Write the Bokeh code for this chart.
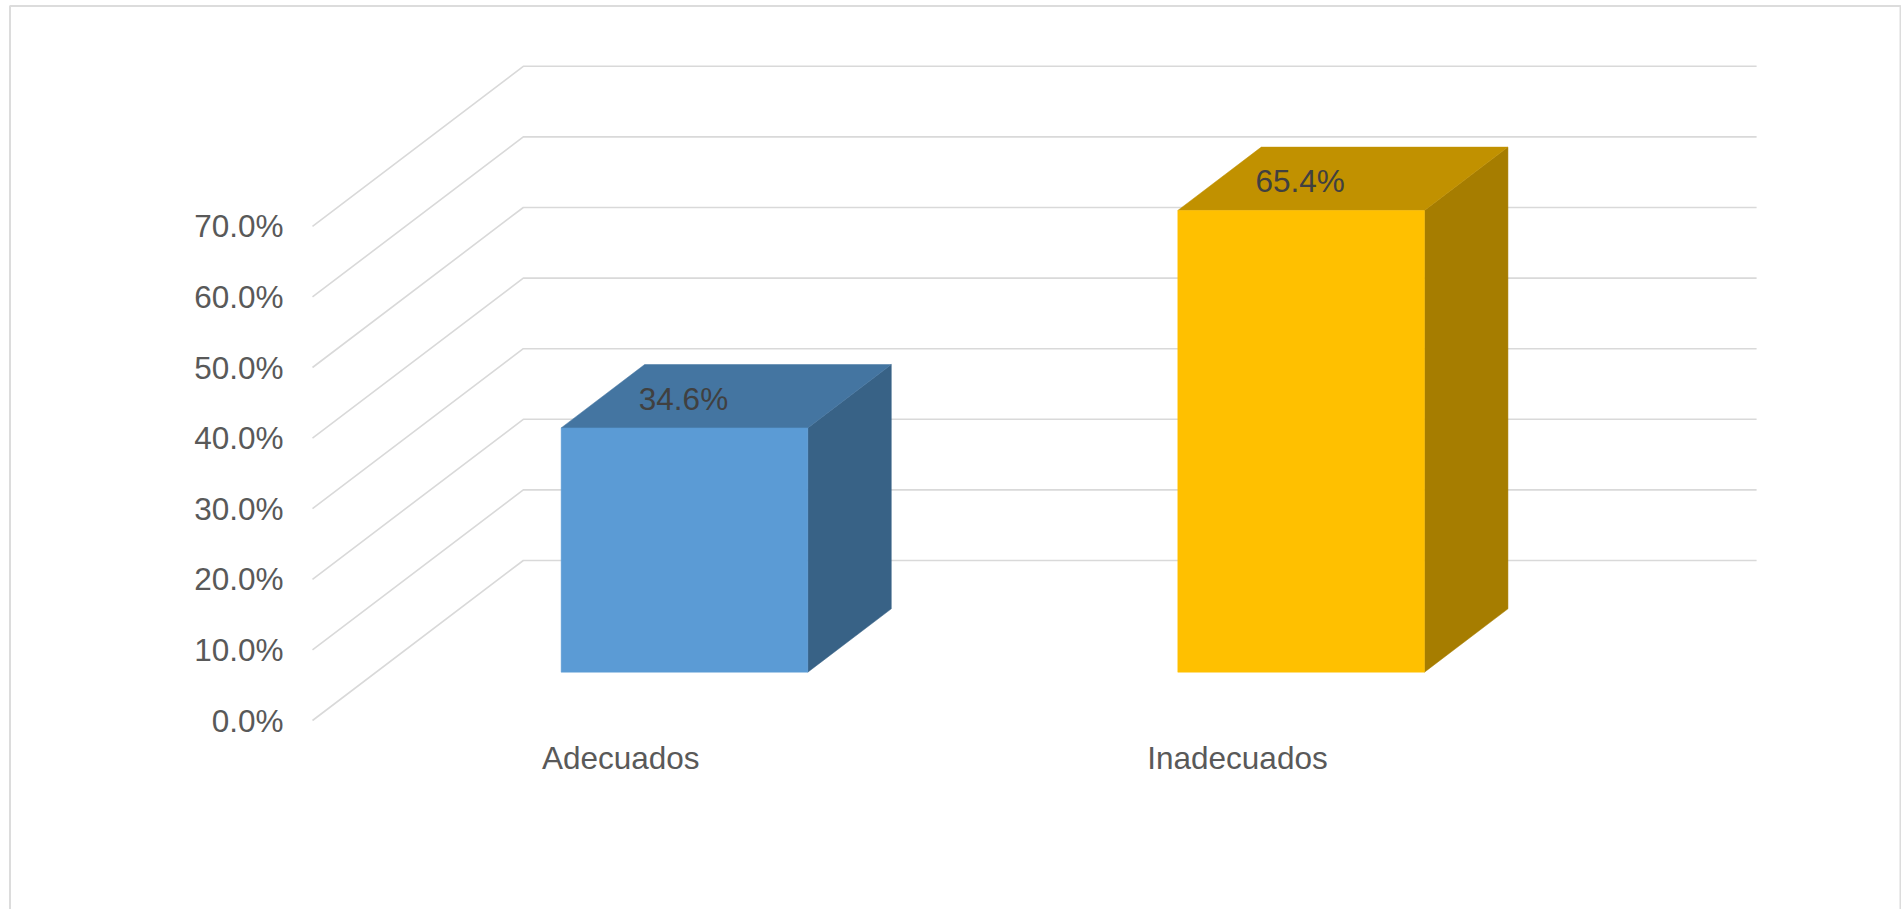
from bokeh.core.properties import value
from bokeh.embed import file_html
from bokeh.models import BoxAnnotation, FixedTicker, PrintfTickFormatter, Range1d
from bokeh.plotting import figure
from bokeh.resources import INLINE

# Chart values
categories = ["Adecuados", "Inadecuados"]
shares = [34.6, 65.4]
y_ticks = [0, 10, 20, 30, 40, 50, 60, 70]

front_colors = ["#5B9BD5", "#FFC000"]
top_colors = ["#4475A1", "#C19100"]
side_colors = ["#386286", "#A67D00"]

GRID_COLOR = "#D9D9D9"
FONT = value("Liberation Sans")

# Oblique projection of the 3-D column chart: depth runs from the front plane
# (0) to the back wall (1), shifting marks right and up.
W, H = 1901, 909
PLOT_LEFT, PLOT_BOTTOM = 312, 720
PX_PER_CATEGORY = 616.65
PX_PER_PERCENT = 7.06
DEPTH_X = 210.8 / PX_PER_CATEGORY
DEPTH_Y = 160.0 / PX_PER_PERCENT
BAR_WIDTH = 0.4
BAR_DEPTH_START, BAR_DEPTH_END = 0.302, 0.698


def project(x, v, depth):
    return x + depth * DEPTH_X, v + depth * DEPTH_Y


def face(points):
    xs, ys = zip(*(project(*pt) for pt in points))
    return list(xs), list(ys)


# The plot frame fills the page; both axes are pinned to the front plane.
x_start = -0.5 - PLOT_LEFT / PX_PER_CATEGORY
y_start = -(H - PLOT_BOTTOM) / PX_PER_PERCENT
p = figure(
    width=W,
    height=H,
    output_backend="svg",
    toolbar_location=None,
    x_range=Range1d(x_start, x_start + W / PX_PER_CATEGORY),
    y_range=Range1d(y_start, y_start + H / PX_PER_PERCENT),
    min_border=0,
    background_fill_color="white",
    border_fill_color="white",
)
p.outline_line_color = None
p.grid.visible = False

# Axes
for ax in (p.xaxis[0], p.yaxis[0]):
    ax.axis_line_color = None
    ax.major_tick_line_color = None
    ax.minor_tick_line_color = None
    ax.major_label_text_font = "Liberation Sans"
    ax.major_label_text_font_size = "31.5px"
    ax.major_label_text_color = "#595959"

p.yaxis[0].fixed_location = -0.5
p.yaxis[0].ticker = FixedTicker(ticks=y_ticks)
p.yaxis[0].formatter = PrintfTickFormatter(format="%.1f%%")
p.yaxis[0].major_label_standoff = 23

p.xaxis[0].fixed_location = 0
p.xaxis[0].ticker = FixedTicker(ticks=list(range(len(categories))))
p.xaxis[0].major_label_overrides = {i: c for i, c in enumerate(categories)}
p.xaxis[0].major_label_standoff = 13

# Floor edge, back wall and side wall lines at each tick
n = len(categories)
for v in y_ticks:
    pts = [(-0.5, v, 0), (-0.5, v, 1), (n - 0.5, v, 1)]
    xs, ys = face(pts)
    p.line(xs, ys, line_color=GRID_COLOR, line_width=1.6)

# Columns: side, top, then front face
half = BAR_WIDTH / 2
d0, d1 = BAR_DEPTH_START, BAR_DEPTH_END
for i, v in enumerate(shares):
    left, right = i - half, i + half
    side = face([(right, 0, d0), (right, 0, d1), (right, v, d1), (right, v, d0)])
    top = face([(left, v, d0), (left, v, d1), (right, v, d1), (right, v, d0)])
    front = face([(left, 0, d0), (right, 0, d0), (right, v, d0), (left, v, d0)])
    for (xs, ys), color in ((side, side_colors[i]), (top, top_colors[i]), (front, front_colors[i])):
        p.patch(xs, ys, fill_color=color, line_color=color, line_width=0.5)

# Value labels sit on the top face of each column
label_x, label_y = zip(*(project(i, v, d0) for i, v in enumerate(shares)))
p.text(
    list(label_x),
    list(label_y),
    text=[f"{v:.1f}%" for v in shares],
    text_font=FONT,
    text_font_size=value("31.5px"),
    text_color="#404040",
    text_align="center",
    text_baseline="middle",
    x_offset=-1,
    y_offset=-29,
)

# Chart area border, open at the bottom where it runs off the page
p.add_layout(
    BoxAnnotation(
        left=9.5,
        right=1900,
        top=5.5,
        bottom=930,
        left_units="canvas",
        right_units="canvas",
        top_units="canvas",
        bottom_units="canvas",
        fill_color=None,
        line_color="#DCDCDC",
        line_alpha=1.0,
        line_width=2,
    )
)

open("out.html", "w").write(file_html(p, INLINE))
